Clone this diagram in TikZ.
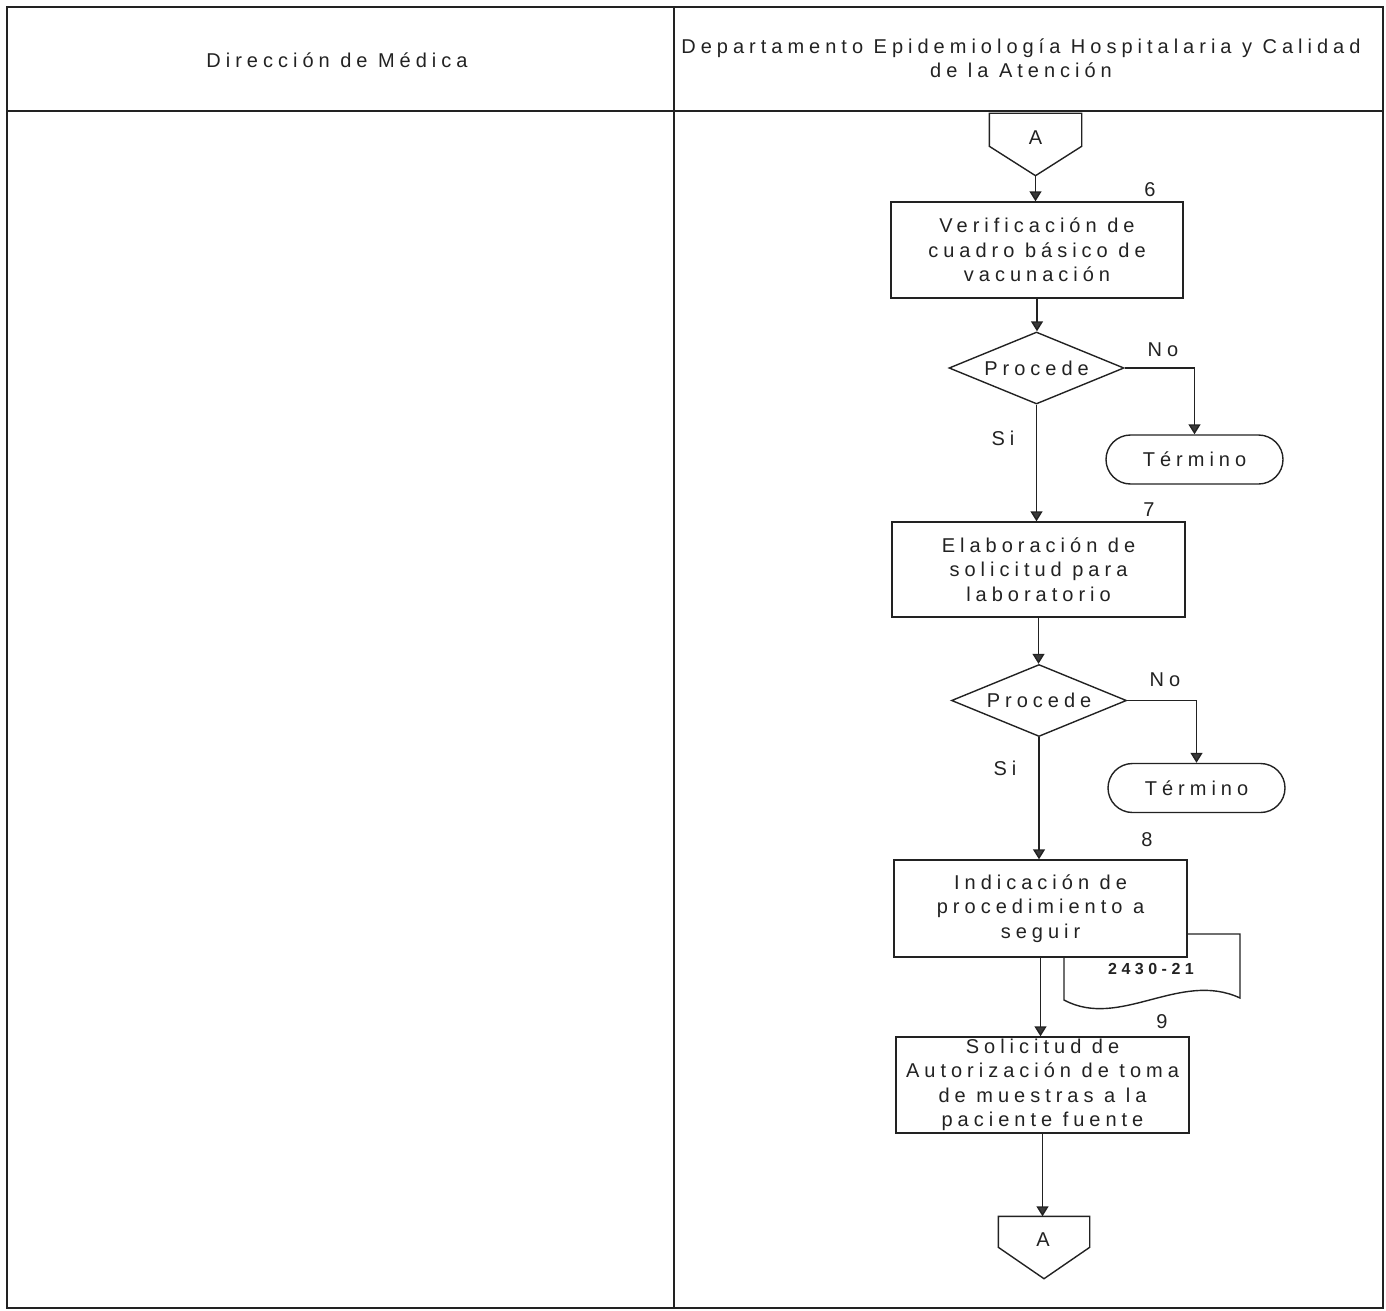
\documentclass[tikz,border=0pt]{standalone}
\usepackage{fontspec}
\newfontfamily\lsfont[LetterSpace=25]{Liberation Sans}
\newfontfamily\lsdoc[LetterSpace=28]{Liberation Sans}
\usetikzlibrary{shapes.geometric,shapes.misc,arrows.meta}
\definecolor{ink}{HTML}{222222}
\definecolor{tipc}{HTML}{3A3A3A}
\begin{document}
\begin{tikzpicture}[x=1pt,y=-1pt,line width=1.4pt,draw=ink,
  txt/.style={font=\lsfont\fontsize{20}{24.5}\selectfont,align=center,inner sep=0pt,text=ink},
  box/.style={draw,fill=white,rectangle,txt},
  dec/.style={draw,diamond,aspect=2.43,minimum width=175pt,minimum height=72pt,txt},
  term/.style={draw,rounded rectangle,minimum width=177pt,minimum height=49pt,txt},
  conn/.style={rectangle,minimum width=91pt,minimum height=61pt,inner sep=0pt},
  arr/.style={-{Triangle[width=12pt,length=10pt,fill=tipc]}},
  frame/.style={line width=1.8pt}]
\useasboundingbox (0,0) rectangle (1386,1311);
% frame and swimlanes
\draw[frame] (7,7) rectangle (1383,1308);
\draw[frame] (674,7) -- (674,1308);
\draw[frame] (7,111) -- (1383,111);
\node[txt] (h1) at (337,60) {Dirección de Médica};
\node[txt] (h2) at (1021,58) {Departamento Epidemiología Hospitalaria y Calidad\\de la Atención};
% top connector
\node[conn] (c1) at (1035.5,144.5) {};
\draw (c1.north west) -- (c1.north east) -- ([yshift=-33pt]c1.north east) -- (c1.south) -- ([yshift=-33pt]c1.north west) -- cycle;
\node[txt] (c1t) at (1035.5,137.5) {A};
% step 6
\node[box,minimum width=292pt,minimum height=96pt] (b6) at (1037,250) {Verificación de\\cuadro básico de\\vacunación};
\node[txt] (n6) at (1150,190) {6};
\node[dec] (d1) at (1036.5,368) {Procede};
\node[term] (t1) at (1194.5,459.5) {Término};
\node[txt] (no1) at (1163,350) {No};
\node[txt] (si1) at (1003,438) {Si};
% step 7
\node[box,minimum width=293pt,minimum height=95pt] (b7) at (1038.5,569.5) {Elaboración de\\solicitud para\\laboratorio};
\node[txt] (n7) at (1149,510) {7};
\node[dec] (d2) at (1039,700.5) {Procede};
\node[term] (t2) at (1196.5,788) {Término};
\node[txt] (no2) at (1165,680) {No};
\node[txt] (si2) at (1005,768) {Si};
% document behind step 8
\draw[fill=white] (1064,934) -- (1240,934) -- (1240,998) .. controls (1180,970) and (1120,1030) .. (1064,1000) -- cycle;
\node[font=\lsdoc\bfseries\fontsize{16}{18}\selectfont,inner sep=0pt,text=ink] (doc) at (1151,969) {2430-21};
% step 8
\node[box,minimum width=293pt,minimum height=97pt] (b8) at (1040.5,908.5) {Indicación de\\procedimiento a\\seguir};
\node[txt] (n8) at (1147,840) {8};
% step 9
\node[box,minimum width=293pt,minimum height=96pt] (b9) at (1042.5,1085) {Solicitud de\\Autorización de toma\\de muestras a la\\paciente fuente};
\node[txt] (n9) at (1162,1022) {9};
% bottom connector
\node[conn,minimum width=90pt] (c2) at (1044,1247.5) {};
\draw (c2.north west) -- (c2.north east) -- ([yshift=-31pt]c2.north east) -- (c2.south) -- ([yshift=-31pt]c2.north west) -- cycle;
\node[txt] (c2t) at (1043,1240) {A};
% connectors
\draw[arr] (c1.south) -- (c1.south |- b6.north);
\draw[arr] (b6.south) -- (b6.south |- d1.north);
\draw[arr] (d1.east) -| (t1.north);
\draw[arr] (d1.south) -- (d1.south |- b7.north);
\draw[arr] (b7.south) -- (b7.south |- d2.north);
\draw[arr] (d2.east) -| (t2.north);
\draw[arr] (d2.south) -- (d2.south |- b8.north);
\draw[arr] (b8.south) -- (b8.south |- b9.north);
\draw[arr] (b9.south) -- (b9.south |- c2.north);
\end{tikzpicture}
\end{document}
